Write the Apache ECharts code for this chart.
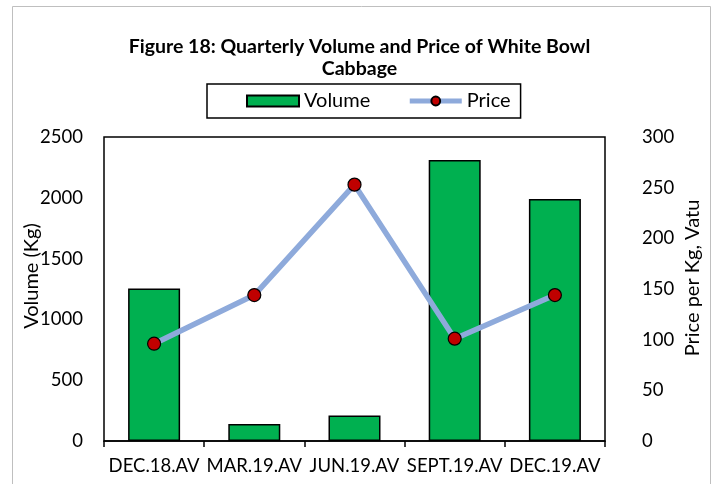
<!DOCTYPE html>
<html>
<head>
<meta charset="utf-8">
<script src="https://cdn.jsdelivr.net/npm/echarts@6/dist/echarts.min.js"></script>
<style>
  html, body { margin: 0; padding: 0; background: #fff; }
  #myChart { width: 719px; height: 484px; }
</style>
</head>
<body>
<div id="myChart"></div>
<script>
// 数据
var categories = ['DEC.18.AV', 'MAR.19.AV', 'JUN.19.AV', 'SEPT.19.AV', 'DEC.19.AV'];
var volumeData = [1255, 140, 210, 2310, 1990];
var priceData = [96, 144, 253, 101, 144];

var font = 'Lato, "Open Sans", sans-serif';

var myChart = echarts.init(document.getElementById('myChart'));
var option = {
  backgroundColor: '#fff',
  textStyle: { fontFamily: font },
  title: {
    text: 'Figure 18: Quarterly Volume and Price of White Bowl\nCabbage',
    left: 'center',
    top: 31,
    textStyle: { fontFamily: font, fontSize: 19.5, fontWeight: 'bold', color: '#000', lineHeight: 22 }
  },
  // 外框
  graphic: [{
    type: 'rect',
    shape: { x: 12.5, y: 6.5, width: 698, height: 490 },
    style: { fill: 'none', stroke: '#bfbfbf', lineWidth: 1 }
  }],
  legend: {
    data: [
      { name: 'Volume', icon: 'rect' },
      { name: 'Price', lineStyle: { width: 5, color: '#8EAADB' } }
    ],
    left: 207,
    top: 84,
    width: 331,
    padding: [7, 10, 7, 39],
    itemGap: 37,
    itemWidth: 52,
    itemHeight: 11,
    borderColor: '#000',
    borderWidth: 1.5,
    textStyle: { fontFamily: font, fontSize: 20, color: '#000' }
  },
  grid: {
    left: 104,
    right: 114,
    top: 137,
    bottom: 43,
    show: true,
    borderColor: '#000',
    borderWidth: 1.5,
    containLabel: false
  },
  xAxis: {
    type: 'category',
    data: categories,
    axisLine: { lineStyle: { color: '#000', width: 1.5 } },
    axisTick: { show: true, alignWithLabel: false, inside: false, length: 6, lineStyle: { color: '#000', width: 1.5 } },
    axisLabel: { color: '#000', fontSize: 18.5, margin: 16, interval: 0, fontFamily: font },
    splitLine: { show: false }
  },
  yAxis: [
    {
      type: 'value',
      name: 'Volume (Kg)',
      nameLocation: 'middle',
      nameGap: 62,
      nameMoveOverlap: false,
      nameTextStyle: { fontSize: 20, color: '#000', fontFamily: font, padding: [0, 0, 0, 26] },
      min: 0, max: 2500, interval: 500,
      axisLine: { show: false },
      axisTick: { show: false },
      axisLabel: { color: '#000', fontSize: 18.5, margin: 21, fontFamily: font, formatter: function (v) { return String(v); } },
      splitLine: { show: false }
    },
    {
      type: 'value',
      name: 'Price per Kg, Vatu',
      nameLocation: 'middle',
      nameGap: 78,
      nameMoveOverlap: false,
      nameRotate: 90,
      nameTextStyle: { fontSize: 20, color: '#000', fontFamily: font, padding: [0, 0, 0, 22] },
      min: 0, max: 300, interval: 50,
      axisLine: { show: false },
      axisTick: { show: false },
      axisLabel: { color: '#000', fontSize: 18.5, margin: 37, align: 'left', fontFamily: font },
      splitLine: { show: false }
    }
  ],
  series: [
    {
      name: 'Volume',
      type: 'bar',
      data: volumeData,
      barWidth: 52,
      itemStyle: { color: '#00B050', borderColor: '#000', borderWidth: 1.5 },
      z: 2
    },
    {
      name: 'Price',
      type: 'line',
      yAxisIndex: 1,
      data: priceData,
      symbol: 'circle',
      symbolSize: 13,
      lineStyle: { color: '#8EAADB', width: 5.5 },
      itemStyle: { color: '#C00000', borderColor: '#000', borderWidth: 1.2 },
      z: 3
    }
  ]
};
myChart.setOption(option);
</script>
</body>
</html>
